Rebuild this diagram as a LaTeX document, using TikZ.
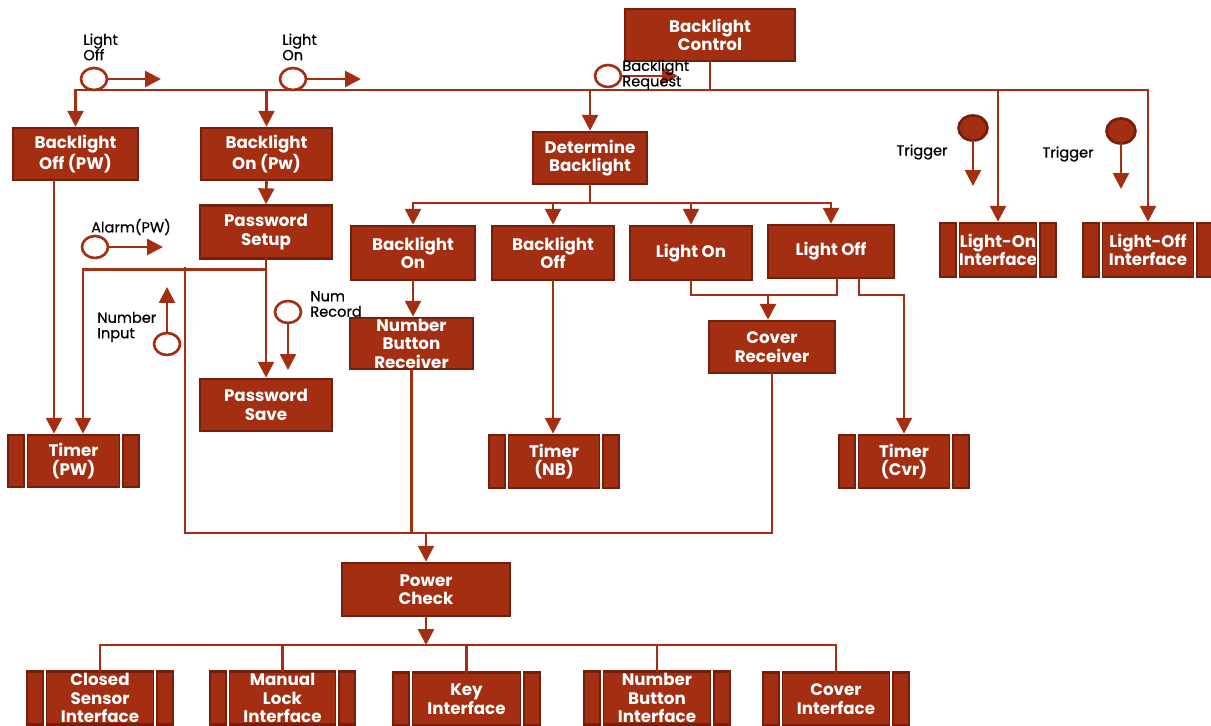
\documentclass[tikz,border=0pt]{standalone}
\usepackage{fontspec}
\setmainfont{Poppins}
\newfontfamily\lblfont{Poppins}[FakeBold=0.6]
\usetikzlibrary{arrows.meta, shapes.geometric}

\definecolor{boxred}{RGB}{164,46,18}
\definecolor{boxdark}{RGB}{118,30,12}

\tikzset{
  box/.style={draw=boxdark, fill=boxred, line width=1.5pt, text=white, align=center,
    inner sep=0pt, font=\fontsize{9.5}{10.5}\selectfont\bfseries},
  iface/.style={box},
  wire/.style={draw=boxred, line width=1.5pt, line cap=rect},
  flow/.style={wire, -{Triangle[length=9pt, width=9pt]}},
  sig/.style={ellipse, draw=boxred, fill=white, line width=1.5pt,
    minimum width=0.52cm, minimum height=0.44cm, inner sep=0pt},
  trig/.style={sig, draw=boxdark, fill=boxred, minimum width=0.58cm, minimum height=0.5cm},
  lbl/.style={align=left, inner sep=0pt, font=\lblfont\fontsize{8.3}{8.8}\selectfont},
  gap/.style={draw=white, line width=1.3pt},
  gapedge/.style={draw=boxdark, line width=3pt},
}

\begin{document}
\begin{tikzpicture}[x=0.02cm, y=-0.02cm]
\useasboundingbox (0,0) rectangle (1211,726);

% top level
\node[box, minimum width=3.4cm, minimum height=1.04cm] (ctrl) at (710,35) {Backlight\\Control};
\node[box, minimum width=2.5cm, minimum height=1.04cm] (boffpw) at (75.5,154) {Backlight\\Off (PW)};
\node[box, minimum width=2.62cm, minimum height=1.04cm] (bonpw) at (266.5,154) {Backlight\\On (Pw)};
\node[box, minimum width=2.28cm, minimum height=1.04cm] (determ) at (590,158) {Determine\\Backlight};
\node[iface, minimum width=2.32cm, minimum height=1.08cm] (lonif) at (998,250) {Light-On\\Interface};
\node[iface, minimum width=2.6cm, minimum height=1.08cm] (loffif) at (1148,250) {Light-Off\\Interface};

% password side
\node[box, minimum width=2.64cm, minimum height=1.06cm] (pwsetup) at (266,232) {Password\\Setup};
\node[box, minimum width=2.64cm, minimum height=1.04cm] (pwsave) at (266,405) {Password\\Save};
\node[iface, minimum width=2.62cm, minimum height=1.04cm] (timerpw) at (73.5,461) {Timer\\(PW)};

% determine side
\node[box, minimum width=2.48cm, minimum height=1.08cm] (blon) at (413,253) {Backlight\\On};
\node[box, minimum width=2.44cm, minimum height=1.08cm] (bloff) at (553,253) {Backlight\\Off};
\node[box, minimum width=2.44cm, minimum height=1.08cm] (lon) at (691,253) {Light On};
\node[box, minimum width=2.52cm, minimum height=1.06cm] (loff) at (831,251.5) {Light Off};
\node[box, minimum width=2.46cm, minimum height=1.02cm] (nbrecv) at (411.5,343.5) {Number\\Button\\Receiver};
\node[box, minimum width=2.52cm, minimum height=1.04cm] (cvrecv) at (772,347) {Cover\\Receiver};
\node[iface, minimum width=2.6cm, minimum height=1.06cm] (timernb) at (554,461.5) {Timer\\(NB)};
\node[iface, minimum width=2.6cm, minimum height=1.06cm] (timercvr) at (904,461.5) {Timer\\(Cvr)};

% power
\node[box, minimum width=3.36cm, minimum height=1.06cm] (pcheck) at (426,589.5) {Power\\Check};
\node[iface, minimum width=2.92cm, minimum height=1.06cm] (csens) at (100,698) {Closed\\Sensor\\Interface};
\node[iface, minimum width=2.9cm, minimum height=1.06cm] (mlock) at (282.5,698) {Manual\\Lock\\Interface};
\node[iface, minimum width=2.94cm, minimum height=1.06cm] (keyif) at (466.5,699) {Key\\Interface};
\node[iface, minimum width=2.92cm, minimum height=1.06cm] (nbif) at (657,698) {Number\\Button\\Interface};
\node[iface, minimum width=2.92cm, minimum height=1.06cm] (cvif) at (836,699) {Cover\\Interface};

% side bars of the interface boxes
\foreach \n in {lonif, loffif, timerpw, timernb, timercvr, csens, mlock, keyif, nbif, cvif} {
  \foreach \c/\dx in {west/0.38cm, east/-0.38cm} {
    \draw[gapedge] ([xshift=\dx]\n.north \c) -- ([xshift=\dx]\n.south \c);
    \draw[gap] ([xshift=\dx]\n.north \c) -- ([xshift=\dx]\n.south \c);
  }
}

% request bus
\coordinate (bus) at (0,90);
\draw[wire] (ctrl.south) -- (ctrl.south |- bus);
\draw[wire] (boffpw.north |- bus) -- (loffif.north |- bus);
\foreach \n in {boffpw, bonpw, determ, lonif, loffif}
  \draw[flow] (\n.north |- bus) -- (\n.north);

\draw[flow] (bonpw.south) -- (pwsetup.north);
\draw[flow] (pwsetup.south) -- (pwsave.north);
\coordinate (pwsplit) at ([yshift=-0.19cm]pwsetup.south);
\draw[flow] (pwsplit) -| ([xshift=0.19cm]timerpw.north);
\draw[flow] ([xshift=-0.43cm]boffpw.south) -- ([xshift=-0.43cm]boffpw.south |- timerpw.north);

% determine bus
\coordinate (dbus) at (590,203);
\draw[wire] (determ.south) -- (dbus);
\draw[wire] (blon.north |- dbus) -- (loff.north |- dbus);
\foreach \n in {blon, bloff, lon, loff}
  \draw[flow] (\n.north |- dbus) -- (\n.north);
\draw[flow] (blon.south) -- (blon.south |- nbrecv.north);
\draw[flow] (bloff.south) -- (bloff.south |- timernb.north);
\coordinate (lmerge) at (768,295);
\draw[wire] (lon.south) |- ([xshift=0.12cm]loff.south |- lmerge) -- ([xshift=0.12cm]loff.south);
\draw[flow] (lmerge) -- (lmerge |- cvrecv.north);
\draw[flow] ([xshift=0.56cm]loff.south) |- (timercvr.north |- lmerge) -- (timercvr.north);

% power bus
\coordinate (pbus) at (426,533);
\coordinate (pcl) at (185,268);
\draw[wire] (pcl) |- (cvrecv.south |- pbus) -- (cvrecv.south);
\draw[wire] (nbrecv.south) -- (nbrecv.south |- pbus);
\draw[flow] (pbus) -- (pcheck.north);
\coordinate (bbus) at (426,645);
\draw[flow] (pcheck.south) -- (bbus);
\draw[wire] (csens.north |- bbus) -- (cvif.north |- bbus);
\foreach \n in {csens, mlock, keyif, nbif, cvif}
  \draw[wire] (\n.north |- bbus) -- (\n.north);

% signals
\node[sig] (soff) at (94,79) {};
\coordinate (soffend) at (161,79);
\draw[flow] (soff) -- (soffend);
\node[lbl, anchor=west] (soffl) at (83,47) {Light\\Off};

\node[sig] (son) at (293,79) {};
\coordinate (sonend) at (361,79);
\draw[flow] (son) -- (sonend);
\node[lbl, anchor=west] (sonl) at (282,47) {Light\\On};

\node[sig] (sreq) at (608,76) {};
\coordinate (sreqend) at (678,76);
\draw[flow] (sreq) -- (sreqend);
\node[lbl, anchor=west] (sreql) at (622,75) {Backlight\\Request};

\node[trig] (trg1) at (973,128) {};
\coordinate (trg1end) at (973,186);
\draw[flow] (trg1) -- (trg1end);
\node[lbl] (trg1l) at (922,152) {Trigger};

\node[trig] (trg2) at (1121,131) {};
\coordinate (trg2end) at (1121,189);
\draw[flow] (trg2) -- (trg2end);
\node[lbl] (trg2l) at (1068,154) {Trigger};

\node[sig] (salarm) at (95,247) {};
\coordinate (salarmend) at (163,247);
\draw[flow] (salarm) -- (salarmend);
\node[lbl] (salarml) at (131,227) {Alarm(PW)};

\node[sig] (snum) at (167,344) {};
\coordinate (snumend) at (167,287);
\draw[flow] (snum) -- (snumend);
\node[lbl, anchor=west] (snuml) at (97,327) {Number\\Input};

\node[sig] (srec) at (288,312) {};
\coordinate (srecend) at (288,370);
\draw[flow] (srec) -- (srecend);
\node[lbl, anchor=west] (srecl) at (310,304) {Num\\Record};

\end{tikzpicture}
\end{document}
